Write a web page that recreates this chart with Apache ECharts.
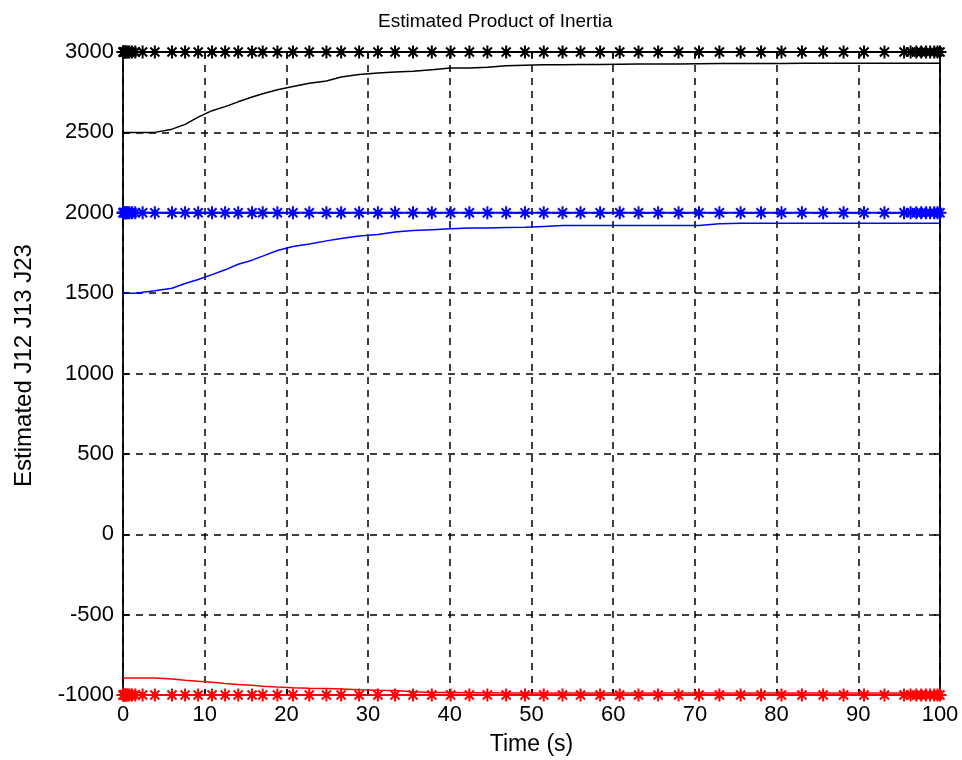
<!DOCTYPE html>
<html>
<head>
<meta charset="utf-8">
<script src="https://cdn.jsdelivr.net/npm/echarts@6/dist/echarts.min.js"></script>
<style>
  html, body { margin: 0; padding: 0; background: #fff; }
  #chart { width: 962px; height: 760px; }
</style>
</head>
<body>
<div id="chart"></div>
<script>
// sample times (s)
const time = [0, 0.05, 0.1, 0.2, 0.3, 0.4, 0.6, 0.8, 1.1, 1.5, 2.4, 3.9, 6.0, 7.6, 9.2, 10.9, 12.5, 14.1,
  15.8, 17.1, 18.9, 20.8, 22.8, 24.9, 26.7, 28.9, 31.2, 33.3, 35.5, 37.8, 40.1, 42.4, 44.6, 46.9,
  49.2, 51.5, 53.8, 56.0, 58.4, 60.8, 63.1, 65.5, 68.0, 70.5, 73.0, 75.6, 78.1, 80.6, 83.1, 85.7,
  88.2, 90.7, 93.2, 95.6, 96.4, 97.1, 97.7, 98.3, 98.8, 99.3, 99.7, 100]

// estimated values
const estJ12 = [2500, 2500, 2500, 2500, 2500, 2500, 2500, 2500, 2500, 2500, 2500, 2500, 2520, 2550, 2595, 2635, 2660, 2690,
  2720, 2740, 2765, 2785, 2805, 2820, 2845, 2860, 2870, 2875, 2880, 2890, 2900, 2900, 2905, 2915,
  2918, 2920, 2920, 2922, 2922, 2924, 2925, 2925, 2926, 2927, 2928, 2928, 2929, 2929, 2930, 2930,
  2930, 2930, 2930, 2930, 2930, 2930, 2930, 2930, 2930, 2930, 2930, 2930]
const estJ13 = [1500, 1500, 1500, 1500, 1500, 1500, 1500, 1500, 1500, 1500, 1505, 1515, 1530, 1560, 1585, 1615, 1645, 1680,
  1705, 1730, 1765, 1790, 1805, 1825, 1840, 1855, 1865, 1880, 1890, 1895, 1900, 1905, 1905, 1908,
  1910, 1915, 1920, 1920, 1920, 1920, 1920, 1920, 1920, 1920, 1932, 1935, 1935, 1935, 1935, 1935,
  1935, 1935, 1935, 1935, 1935, 1935, 1935, 1935, 1935, 1935, 1935, 1935]
const estJ23 = [-895, -895, -895, -895, -895, -895, -895, -895, -895, -895, -895, -895, -900, -908, -915, -920, -928, -935,
  -940, -945, -950, -955, -958, -960, -963, -967, -970, -972, -980, -985, -985, -986, -986, -987,
  -987, -988, -988, -988, -988, -988, -988, -988, -988, -988, -988, -988, -988, -988, -988, -988,
  -988, -988, -988, -988, -988, -988, -988, -988, -988, -988, -988, -988]

// true values
const trueJ12 = 3000
const trueJ13 = 2000
const trueJ23 = -1000

const font = 'Liberation Sans, Arial, Helvetica, sans-serif'
const star = 'path://M0 5 L10 5 M5 0 L5 10 M1.5 1.5 L8.5 8.5 M8.5 1.5 L1.5 8.5'

function pairs(vals) {
  return time.map((t, i) => [t, vals[i]])
}
function flat(v) {
  return time.map(t => [t, v])
}

function estSeries(vals, color) {
  return {
    type: 'line',
    data: pairs(vals),
    showSymbol: false,
    lineStyle: { color: color, width: 1.5 },
    z: 3
  }
}
function trueSeries(v, color) {
  return {
    type: 'line',
    data: flat(v),
    symbol: star,
    symbolSize: 13,
    showAllSymbol: true,
    itemStyle: { color: color, borderColor: color, borderWidth: 2 },
    lineStyle: { color: color, width: 2.2 },
    z: 4
  }
}

let myChart = echarts.init(document.getElementById('chart'))
const axisLine = { show: true, onZero: false, lineStyle: { color: '#000', width: 1.8 } }
const tick = { show: true, inside: true, length: 6, lineStyle: { color: '#000', width: 1.5 } }
const grid = { show: true, lineStyle: { color: '#000', type: [7, 6], width: 1.5 } }

myChart.setOption({
  animation: false,
  title: {
    text: 'Estimated Product of Inertia',
    left: 373,
    top: 7,
    textStyle: { fontFamily: font, fontSize: 19, fontWeight: 'normal', color: '#000' }
  },
  grid: { left: 123, right: 22, top: 52, bottom: 65, outerBoundsMode: 'none', containLabel: false },
  xAxis: [
    {
      type: 'value',
      min: 0, max: 100, interval: 10,
      name: 'Time (s)',
      nameLocation: 'middle',
      nameGap: 38,
      nameTextStyle: { fontFamily: font, fontSize: 23, color: '#000' },
      axisLine: axisLine,
      axisTick: tick,
      splitLine: grid,
      axisLabel: { fontFamily: font, fontSize: 22, color: '#000', margin: 9 }
    },
    {
      type: 'value', position: 'top',
      min: 0, max: 100, interval: 10,
      axisLine: axisLine, axisTick: tick,
      axisLabel: { show: false }, splitLine: { show: false }
    }
  ],
  yAxis: [
    {
      type: 'value',
      min: -1000, max: 3000, interval: 500,
      name: 'Estimated J12 J13 J23',
      nameLocation: 'middle',
      nameGap: 87,
      nameTextStyle: { fontFamily: font, fontSize: 24, color: '#000', padding: [0, 0, 0, 16] },
      axisLine: axisLine,
      axisTick: tick,
      splitLine: grid,
      axisLabel: { fontFamily: font, fontSize: 22, color: '#000', margin: 9, formatter: v => String(v) }
    },
    {
      type: 'value', position: 'right',
      min: -1000, max: 3000, interval: 500,
      axisLine: axisLine, axisTick: tick,
      axisLabel: { show: false }, splitLine: { show: false }
    }
  ],
  series: [
    estSeries(estJ12, '#000000'),
    estSeries(estJ13, '#0000ff'),
    estSeries(estJ23, '#ff0000'),
    trueSeries(trueJ12, '#000000'),
    trueSeries(trueJ13, '#0000ff'),
    trueSeries(trueJ23, '#ff0000')
  ]
})
</script>
</body>
</html>
